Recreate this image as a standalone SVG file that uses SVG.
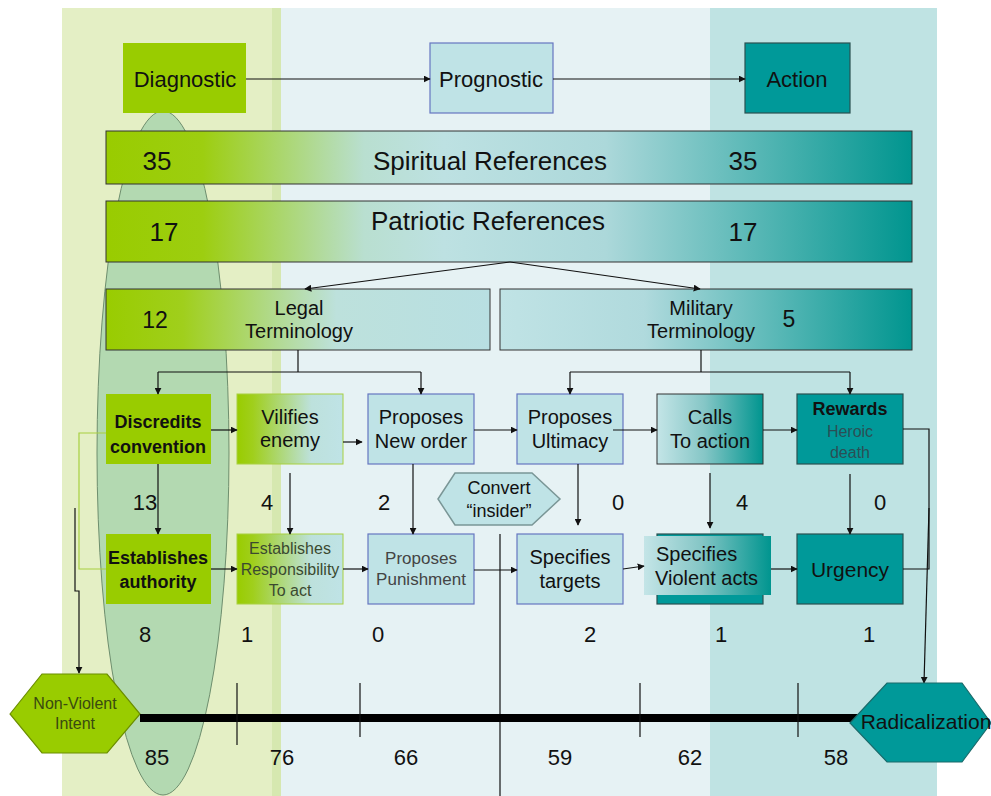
<svg xmlns="http://www.w3.org/2000/svg" width="991" height="796" viewBox="0 0 991 796">
<defs>
<style>
text{font-family:"Liberation Sans",Arial,sans-serif;fill:#111;}
.c{text-anchor:middle;}
.t22{font-size:22px;}
.t26{font-size:26px;}
.t19{font-size:20px;}
.t18{font-size:18px;}
.b{font-weight:bold;}
.num{font-size:22px;text-anchor:middle;fill:#111;}
.gray{fill:#444;}
.dk{stroke:#333;stroke-width:1;}
.lb{fill:#bfe3e6;stroke:#6676c0;stroke-width:1.2;}
.gr{fill:#99cc00;}
.teal{fill:#009999;stroke:#2a5050;stroke-width:1.2;}
.con{fill:none;stroke:#111;stroke-width:1.2;}
.arr{marker-end:url(#ah);}
</style>
<marker id="ah" viewBox="0 0 10 10" refX="9" refY="5" markerWidth="7" markerHeight="7" markerUnits="userSpaceOnUse" orient="auto">
<path d="M0,0 L10,5 L0,10 z" fill="#111"/>
</marker>
<linearGradient id="gBar" x1="0" y1="0" x2="1" y2="0">
<stop offset="0" stop-color="#99cc00"/>
<stop offset="0.12" stop-color="#9dce10"/>
<stop offset="0.32" stop-color="#b9dfd0"/>
<stop offset="0.42" stop-color="#bde1e2"/>
<stop offset="0.62" stop-color="#acd8da"/>
<stop offset="1" stop-color="#00958f"/>
</linearGradient>
<linearGradient id="gLegal" x1="0" y1="0" x2="1" y2="0">
<stop offset="0" stop-color="#99cc00"/>
<stop offset="0.2" stop-color="#a0cf1c"/>
<stop offset="0.6" stop-color="#bde1dc"/>
<stop offset="1" stop-color="#b8dfe2"/>
</linearGradient>
<linearGradient id="gMil" x1="0" y1="0" x2="1" y2="0">
<stop offset="0" stop-color="#c0e3e5"/>
<stop offset="0.35" stop-color="#b0dadd"/>
<stop offset="1" stop-color="#00958f"/>
</linearGradient>
<linearGradient id="gVil" x1="0" y1="0" x2="1" y2="0">
<stop offset="0" stop-color="#99cc00"/>
<stop offset="0.15" stop-color="#a0cf1c"/>
<stop offset="0.7" stop-color="#bde1dc"/>
<stop offset="1" stop-color="#bfe3e6"/>
</linearGradient>
<linearGradient id="gCalls" x1="0" y1="0" x2="1" y2="0">
<stop offset="0" stop-color="#c4e5e7"/>
<stop offset="0.45" stop-color="#85c6c6"/>
<stop offset="1" stop-color="#00958f"/>
</linearGradient>
</defs>

<g id="background">
<rect x="0" y="0" width="991" height="796" fill="#ffffff"/>
<rect x="62" y="8" width="212" height="788" fill="#e4efc5"/>
<rect x="272" y="8" width="9" height="788" fill="#d6e8b0"/>
<rect x="281" y="8" width="429" height="788" fill="#e6f2f4"/>
<rect x="710" y="8" width="227" height="788" fill="#bfe3e3"/>
<ellipse cx="163" cy="453" rx="66" ry="342" fill="#b3d9b1" stroke="#6e8e6e" stroke-width="1"/>
</g>

<g id="diagnostic"><rect x="123" y="43" width="123" height="70" class="gr"/><text x="185" y="87" class="c t22">Diagnostic</text></g>
<g id="prognostic"><rect x="430" y="43" width="123" height="70" class="lb"/><text x="491" y="87" class="c t22">Prognostic</text></g>
<g id="action"><rect x="745" y="43" width="105" height="70" class="teal"/><text x="797" y="87" class="c t22">Action</text></g>

<g id="spiritual"><rect x="106" y="131" width="806" height="53" fill="url(#gBar)" class="dk"/>
<text x="157" y="170" class="c t26">35</text><text x="490" y="170" class="c t26">Spiritual References</text><text x="743" y="170" class="c t26">35</text></g>
<g id="patriotic"><rect x="106" y="201" width="806" height="61" fill="url(#gBar)" class="dk"/>
<text x="164" y="241" class="c t26">17</text><text x="488" y="230" class="c t26">Patriotic References</text><text x="743" y="241" class="c t26">17</text></g>

<g id="legal"><rect x="106" y="289" width="384" height="61" fill="url(#gLegal)" class="dk"/>
<text x="155" y="328" class="c" style="font-size:23px">12</text>
<text x="299" y="315" class="c t19">Legal</text><text x="299" y="338" class="c t19">Terminology</text></g>
<g id="military"><rect x="500" y="289" width="412" height="61" fill="url(#gMil)" class="dk"/>
<text x="701" y="315" class="c t19">Military</text><text x="701" y="338" class="c t19">Terminology</text>
<text x="789" y="327" class="c" style="font-size:23px">5</text></g>

<g id="discredits"><rect x="106" y="394" width="105" height="70" class="gr"/>
<text x="158" y="428" class="c t18 b">Discredits</text><text x="158" y="453" class="c t18 b">convention</text></g>
<g id="vilifies"><rect x="237" y="394" width="106" height="70" fill="url(#gVil)" stroke="#a8d040" stroke-width="1"/>
<text x="290" y="424" class="c t19">Vilifies</text><text x="290" y="447" class="c t19">enemy</text></g>
<g id="neworder"><rect x="368" y="394" width="106" height="70" class="lb"/>
<text x="421" y="424" class="c t19">Proposes</text><text x="421" y="448" class="c t19">New order</text></g>
<g id="ultimacy"><rect x="517" y="394" width="106" height="70" class="lb"/>
<text x="570" y="424" class="c t19">Proposes</text><text x="570" y="448" class="c t19">Ultimacy</text></g>
<g id="calls"><rect x="657" y="394" width="106" height="70" fill="url(#gCalls)" class="dk"/>
<text x="710" y="424" class="c t19">Calls</text><text x="710" y="448" class="c t19">To action</text></g>
<g id="rewards"><rect x="797" y="394" width="106" height="70" class="teal"/>
<text x="850" y="415" class="c t18 b">Rewards</text>
<text x="850" y="437" class="c" style="font-size:16px;fill:#2b4f55">Heroic</text>
<text x="850" y="458" class="c" style="font-size:16px;fill:#2b4f55">death</text></g>

<g id="authority"><rect x="106" y="534" width="105" height="70" class="gr"/>
<text x="158" y="564" class="c t18 b">Establishes</text><text x="158" y="588" class="c t18 b">authority</text></g>
<g id="responsibility"><rect x="237" y="534" width="106" height="70" fill="url(#gVil)" stroke="#a8d040" stroke-width="1"/>
<text x="290" y="554" class="c" style="font-size:16px;fill:#3b4a30">Establishes</text>
<text x="290" y="575" class="c" style="font-size:16px;fill:#3b4a30">Responsibility</text>
<text x="290" y="596" class="c" style="font-size:16px;fill:#3b4a30">To act</text></g>
<g id="punishment"><rect x="368" y="534" width="106" height="70" class="lb"/>
<text x="421" y="564" class="c gray" style="font-size:17px">Proposes</text><text x="421" y="585" class="c gray" style="font-size:17px">Punishment</text></g>
<g id="targets"><rect x="517" y="534" width="106" height="70" class="lb"/>
<text x="570" y="564" class="c t19">Specifies</text><text x="570" y="588" class="c t19">targets</text></g>
<g id="violent"><rect x="657" y="534" width="106" height="70" class="teal"/>
<rect x="644" y="536" width="127" height="59" fill="url(#gCalls)"/>
<text x="656" y="561" class="t19">Specifies</text><text x="655" y="585" class="t19">Violent acts</text></g>
<g id="urgency"><rect x="797" y="534" width="106" height="70" class="teal"/>
<text x="850" y="577" class="c" style="font-size:21px">Urgency</text></g>

<g id="convert"><polygon points="438,499 455,473 532,473 560,499 532,525 455,525" fill="#bfe3e6" stroke="#7a9696" stroke-width="1.5"/>
<text x="499" y="494" class="c t18">Convert</text><text x="499" y="517" class="c t18">“insider”</text></g>

<g id="nonviolent"><polygon points="10,714 42,674 107,674 140,714 107,753 42,753" fill="#99cc00" stroke="#6b8e00" stroke-width="1.2"/>
<text x="75" y="709" class="c" style="font-size:16px;fill:#3a4a10">Non-Violent</text>
<text x="75" y="729" class="c" style="font-size:16px;fill:#3a4a10">Intent</text></g>

<g id="connectors">
<line x1="246" y1="79" x2="430" y2="79" class="con arr"/>
<line x1="553" y1="79" x2="745" y2="79" class="con arr"/>
<line x1="510" y1="262" x2="305" y2="289" class="con arr"/>
<line x1="510" y1="262" x2="700" y2="289" class="con arr"/>
<polyline points="298,350 298,372" class="con"/>
<line x1="158" y1="372" x2="421" y2="372" class="con"/>
<line x1="158" y1="372" x2="158" y2="394" class="con arr"/>
<line x1="421" y1="372" x2="421" y2="394" class="con arr"/>
<polyline points="701,350 701,372" class="con"/>
<line x1="570" y1="372" x2="850" y2="372" class="con"/>
<line x1="570" y1="372" x2="570" y2="394" class="con arr"/>
<line x1="850" y1="372" x2="850" y2="394" class="con arr"/>
<line x1="211" y1="430" x2="237" y2="430" class="con arr"/>
<line x1="343" y1="442" x2="362" y2="442" class="con arr"/>
<line x1="474" y1="430" x2="517" y2="430" class="con arr"/>
<line x1="613" y1="430" x2="657" y2="430" class="con arr"/>
<line x1="763" y1="430" x2="797" y2="430" class="con arr"/>
<line x1="211" y1="569" x2="237" y2="569" class="con arr"/>
<line x1="343" y1="569" x2="368" y2="569" class="con arr"/>
<line x1="474" y1="570" x2="517" y2="570" class="con arr"/>
<line x1="623" y1="569" x2="644" y2="566" class="con arr"/>
<line x1="771" y1="569" x2="797" y2="569" class="con arr"/>
<line x1="158" y1="464" x2="158" y2="534" class="con arr"/>
<line x1="290" y1="473" x2="290" y2="534" class="con arr"/>
<line x1="413" y1="464" x2="413" y2="534" class="con arr"/>
<line x1="578" y1="464" x2="578" y2="525" class="con arr"/>
<line x1="710" y1="473" x2="710" y2="528" class="con arr"/>
<line x1="850" y1="474" x2="850" y2="534" class="con arr"/>
<polyline points="106,433 79,433 79,569 106,569" fill="none" stroke="#a8d040" stroke-width="1.2"/>
<polyline points="75,508 75,591 79,591 79,673" class="con arr"/>
<polyline points="903,429 929,429 929,569 903,569" class="con"/>
<line x1="929" y1="508" x2="924" y2="683" class="con arr"/>
<line x1="500" y1="534" x2="500" y2="796" class="con"/>
<line x1="140" y1="718" x2="858" y2="718" stroke="#000" stroke-width="8"/>
<line x1="237" y1="683" x2="237" y2="745" class="con"/>
<line x1="360" y1="683" x2="360" y2="737" class="con"/>
<line x1="640" y1="683" x2="640" y2="737" class="con"/>
<line x1="798" y1="683" x2="798" y2="737" class="con"/>
</g>

<g id="radicalization"><polygon points="850,723 887,683 962,683 991,723 962,762 887,762" fill="#009999" stroke="#1a6b6b" stroke-width="1.2"/>
<text x="926" y="729" class="c" style="font-size:21px">Radicalization</text></g>

<g id="counts">
<text x="145" y="510" class="num">13</text>
<text x="267" y="510" class="num">4</text>
<text x="384" y="510" class="num">2</text>
<text x="618" y="510" class="num">0</text>
<text x="742" y="510" class="num">4</text>
<text x="880" y="510" class="num">0</text>
<text x="145" y="642" class="num">8</text>
<text x="247" y="642" class="num">1</text>
<text x="378" y="642" class="num">0</text>
<text x="590" y="642" class="num">2</text>
<text x="721" y="642" class="num">1</text>
<text x="869" y="642" class="num">1</text>
<text x="157" y="765" class="num">85</text>
<text x="282" y="765" class="num">76</text>
<text x="406" y="765" class="num">66</text>
<text x="560" y="765" class="num">59</text>
<text x="690" y="765" class="num">62</text>
<text x="836" y="765" class="num">58</text>
</g>
</svg>
